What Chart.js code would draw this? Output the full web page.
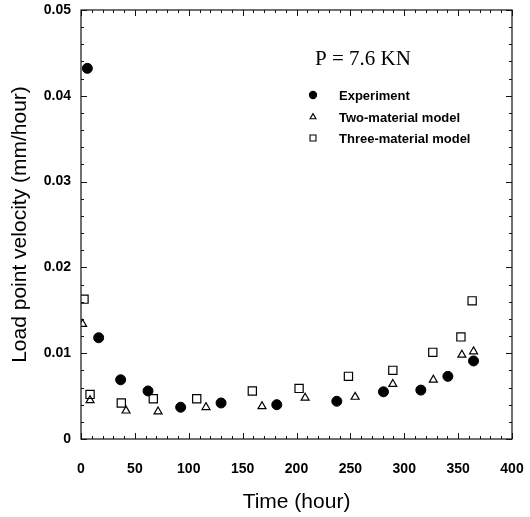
<!DOCTYPE html>
<html>
<head>
<meta charset="utf-8">
<script src="https://cdn.jsdelivr.net/npm/chart.js@4/dist/chart.umd.min.js"></script>
<style>
html,body{margin:0;padding:0;background:#fff;}
#wrap{width:530px;height:517px;position:relative;}
</style>
</head>
<body>
<div id="wrap"><canvas id="c" width="530" height="517"></canvas></div>
<script>
// ---- data ----
const expTime   = [5.9, 16.4, 36.8, 62.2, 92.5, 130, 181.7, 237.4, 280.7, 315.4, 340.5, 364.3];
const expVel    = [0.0432, 0.0118, 0.0069, 0.0056, 0.0037, 0.0042, 0.0040, 0.0044, 0.0055, 0.0057, 0.0073, 0.0091];
const twoTime   = [1.5, 8.4, 41.8, 71.5, 116, 168, 208, 254.4, 289.4, 327, 353.5, 364.3];
const twoVel    = [0.0134, 0.0045, 0.0033, 0.0032, 0.0037, 0.0038, 0.0048, 0.0049, 0.0064, 0.0069, 0.0098, 0.0102];
const threeTime = [2.8, 8.4, 37.4, 67.1, 107.4, 159, 202.4, 248.2, 289.4, 326.5, 352.6, 363];
const threeVel  = [0.0163, 0.0052, 0.0042, 0.0047, 0.0047, 0.0056, 0.0059, 0.0073, 0.0080, 0.0101, 0.0119, 0.0161];
const seriesLabels = ['Experiment', 'Two-material model', 'Three-material model'];
const xTickValues = [0, 50, 100, 150, 200, 250, 300, 350, 400];
const yTickValues = [0, 0.01, 0.02, 0.03, 0.04, 0.05];
const xTitle = 'Time (hour)';
const yTitle = 'Load point velocity (mm/hour)';
const annotationText = 'P = 7.6 KN';

function pts(xs, ys){ return xs.map((x,i)=>({x:x, y:ys[i]})); }

const frameTicks = {
  id:'frameTicks',
  afterDatasetsDraw(chart){
    const ctx = chart.ctx, a = chart.chartArea;
    const xs = chart.scales.x, ys = chart.scales.y;
    ctx.save();
    ctx.strokeStyle = '#111';
    ctx.lineWidth = 1.2;
    ctx.strokeRect(a.left, a.top, a.right - a.left, a.bottom - a.top);
    ctx.lineWidth = 1;
    ctx.beginPath();
    for (let v = xTickValues[0]; v <= xTickValues[xTickValues.length-1] + 1e-9; v += 10) {
      const major = xTickValues.some(t => Math.abs(t - v) < 1e-6);
      const L = major ? 6 : 3;
      const p = Math.round(xs.getPixelForValue(v)) + 0.5;
      ctx.moveTo(p, a.bottom); ctx.lineTo(p, a.bottom - L);
      ctx.moveTo(p, a.top); ctx.lineTo(p, a.top + L);
    }
    for (let k = 0; k <= 25; k++) {
      const v = k * 0.002;
      const major = k % 5 === 0;
      const L = major ? 6 : 3;
      const p = Math.round(ys.getPixelForValue(v)) + 0.5;
      ctx.moveTo(a.left, p); ctx.lineTo(a.left + L, p);
      ctx.moveTo(a.right, p); ctx.lineTo(a.right - L, p);
    }
    ctx.stroke();

    // annotation
    ctx.fillStyle = '#000';
    ctx.font = '21px "Liberation Serif", "Times New Roman", serif';
    ctx.textAlign = 'left';
    ctx.textBaseline = 'middle';
    ctx.fillText(annotationText, 315, 59);

    // legend
    const legY = [95, 117, 138];
    ctx.font = 'bold 13px "Liberation Sans", Arial, sans-serif';
    chart.data.datasets.forEach((ds, i) => {
      const style = ds.pointStyle;
      const r = i === 0 ? 3.6 : (i === 1 ? 3.4 : 4.2);
      ctx.strokeStyle = '#000';
      ctx.lineWidth = 1.1;
      ctx.fillStyle = style === 'circle' ? '#000' : 'rgba(0,0,0,0)';
      Chart.helpers.drawPoint(ctx, { pointStyle: style, radius: r, borderWidth: 1.1, rotation: 0 }, 313, legY[i]);
      ctx.fillStyle = '#000';
      ctx.fillText(ds.label, 339, legY[i] + 1);
    });
    ctx.restore();
  }
};

new Chart(document.getElementById('c'), {
  type: 'scatter',
  data: {
    datasets: [
      { label: seriesLabels[0], data: pts(expTime, expVel), pointStyle:'circle', pointRadius:5,
        pointBackgroundColor:'#000', pointBorderColor:'#000', pointBorderWidth:1 },
      { label: seriesLabels[1], data: pts(twoTime, twoVel), pointStyle:'triangle', pointRadius:4.6,
        pointBackgroundColor:'rgba(255,255,255,0)', pointBorderColor:'#000', pointBorderWidth:1.2 },
      { label: seriesLabels[2], data: pts(threeTime, threeVel), pointStyle:'rect', pointRadius:5.8,
        pointBackgroundColor:'rgba(255,255,255,0)', pointBorderColor:'#000', pointBorderWidth:1.2 }
    ]
  },
  options: {
    responsive: false,
    animation: false,
    layout: { padding: { top: 10, right: 18, left: 0, bottom: 0 } },
    plugins: { legend: { display:false }, tooltip: { enabled:false } },
    scales: {
      x: {
        type:'linear', min: xTickValues[0], max: xTickValues[xTickValues.length-1],
        afterBuildTicks: s => { s.ticks = xTickValues.map(v => ({value:v})); },
        afterFit: s => { s.height = 78; s.paddingLeft = 0; s.paddingRight = 0; },
        grid: { display:false, drawTicks:false },
        border: { display:false },
        ticks: { color:'#000', padding: 22, maxRotation:0, autoSkip:false,
          font: { family:'"Liberation Sans", Arial, sans-serif', size:14, weight:'bold' } },
        title: { display:true, text:xTitle, color:'#000', padding:{top:0,bottom:2},
          font: { family:'"Liberation Sans", Arial, sans-serif', size:21 } }
      },
      y: {
        type:'linear', min: yTickValues[0], max: yTickValues[yTickValues.length-1],
        afterBuildTicks: s => { s.ticks = yTickValues.map(v => ({value:v})); },
        afterFit: s => { s.width = 81; s.paddingTop = 0; s.paddingBottom = 0; },
        grid: { display:false, drawTicks:false },
        border: { display:false },
        ticks: { color:'#000', padding: 10, autoSkip:false,
          callback: v => String(+v.toFixed(2)),
          font: { family:'"Liberation Sans", Arial, sans-serif', size:14, weight:'bold' } },
        title: { display:true, text:yTitle, color:'#000', padding:{top:8,bottom:0},
          font: { family:'"Liberation Sans", Arial, sans-serif', size:21 } }
      }
    }
  },
  plugins: [frameTicks]
});
</script>
</body>
</html>
